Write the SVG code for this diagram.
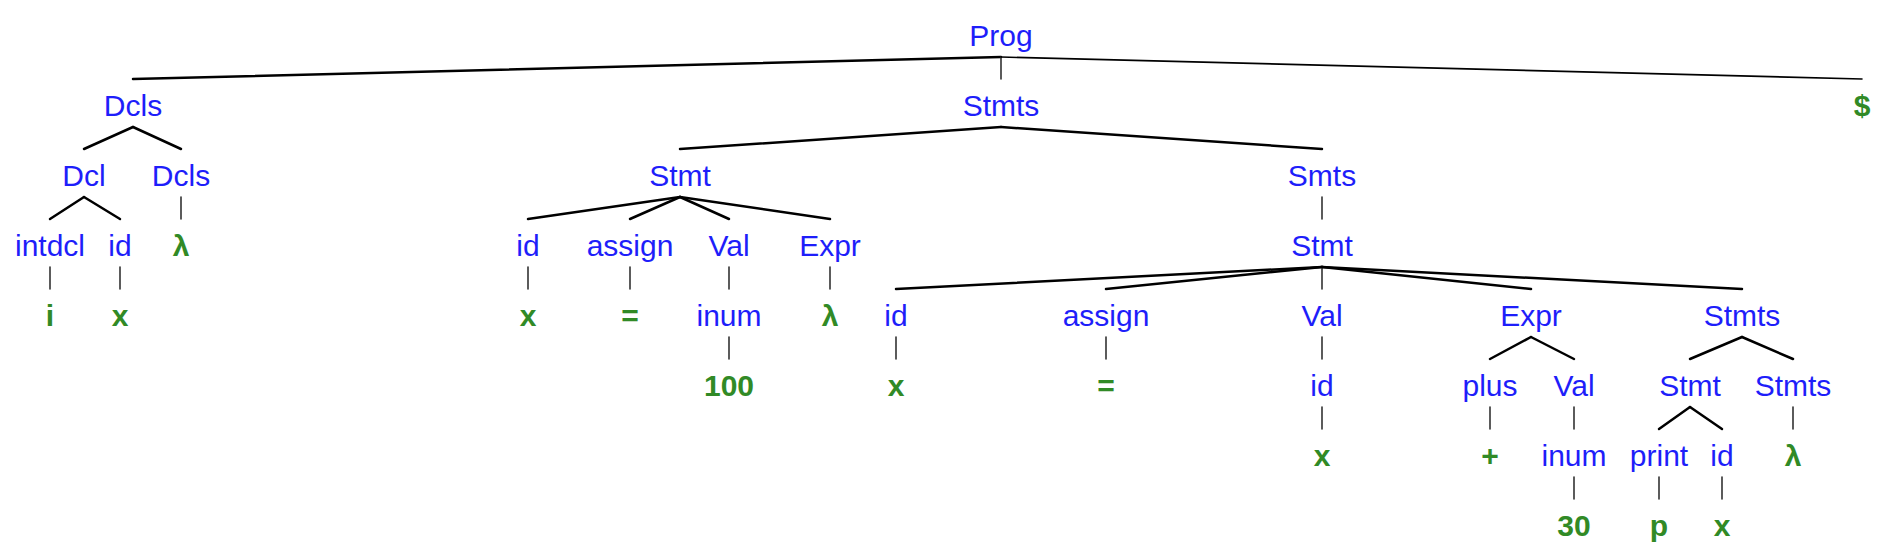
<svg xmlns="http://www.w3.org/2000/svg" width="1900" height="554" viewBox="0 0 1900 554">
<style>
text{font-family:"Liberation Sans",Arial,sans-serif;font-size:30px;text-anchor:middle}
.n{fill:#1e1efa}
.t{fill:#318a26;font-weight:bold}
.e line{stroke:#000;stroke-width:2.5;stroke-linecap:round}
.e line.v{stroke:#333;stroke-width:1.6}
</style>
<rect width="1900" height="554" fill="#fff"/>
<g class="e" id="connectors">
<line x1="1001" y1="57" x2="133" y2="79"/>
<line class="v" x1="1001" y1="57" x2="1001" y2="79"/>
<line x1="1001" y1="57" x2="1862" y2="79" style="stroke-width:1.6"/>
<line x1="133" y1="127" x2="84" y2="149"/>
<line x1="133" y1="127" x2="181" y2="149"/>
<line x1="1001" y1="127" x2="680" y2="149"/>
<line x1="1001" y1="127" x2="1322" y2="149"/>
<line x1="84" y1="197" x2="50" y2="219"/>
<line x1="84" y1="197" x2="120" y2="219"/>
<line class="v" x1="181" y1="197" x2="181" y2="219"/>
<line x1="680" y1="197" x2="528" y2="219"/>
<line x1="680" y1="197" x2="630" y2="219"/>
<line x1="680" y1="197" x2="729" y2="219"/>
<line x1="680" y1="197" x2="830" y2="219"/>
<line class="v" x1="1322" y1="197" x2="1322" y2="219"/>
<line class="v" x1="50" y1="267" x2="50" y2="289"/>
<line class="v" x1="120" y1="267" x2="120" y2="289"/>
<line class="v" x1="528" y1="267" x2="528" y2="289"/>
<line class="v" x1="630" y1="267" x2="630" y2="289"/>
<line class="v" x1="729" y1="267" x2="729" y2="289"/>
<line class="v" x1="830" y1="267" x2="830" y2="289"/>
<line x1="1322" y1="267" x2="896" y2="289"/>
<line x1="1322" y1="267" x2="1106" y2="289"/>
<line class="v" x1="1322" y1="267" x2="1322" y2="289"/>
<line x1="1322" y1="267" x2="1531" y2="289"/>
<line x1="1322" y1="267" x2="1742" y2="289"/>
<line class="v" x1="729" y1="337" x2="729" y2="359"/>
<line class="v" x1="896" y1="337" x2="896" y2="359"/>
<line class="v" x1="1106" y1="337" x2="1106" y2="359"/>
<line class="v" x1="1322" y1="337" x2="1322" y2="359"/>
<line x1="1531" y1="337" x2="1490" y2="359"/>
<line x1="1531" y1="337" x2="1574" y2="359"/>
<line x1="1742" y1="337" x2="1690" y2="359"/>
<line x1="1742" y1="337" x2="1793" y2="359"/>
<line class="v" x1="1322" y1="407" x2="1322" y2="429"/>
<line class="v" x1="1490" y1="407" x2="1490" y2="429"/>
<line class="v" x1="1574" y1="407" x2="1574" y2="429"/>
<line x1="1690" y1="407" x2="1659" y2="429"/>
<line x1="1690" y1="407" x2="1722" y2="429"/>
<line class="v" x1="1793" y1="407" x2="1793" y2="429"/>
<line class="v" x1="1574" y1="477" x2="1574" y2="499"/>
<line class="v" x1="1659" y1="477" x2="1659" y2="499"/>
<line class="v" x1="1722" y1="477" x2="1722" y2="499"/>
</g>
<g id="n-prog"><text class="n" x="1001" y="46">Prog</text></g>
<g id="n-dcls1"><text class="n" x="133" y="116">Dcls</text></g>
<g id="n-stmts1"><text class="n" x="1001" y="116">Stmts</text></g>
<g id="n-dollar"><text class="t" x="1862" y="116">$</text></g>
<g id="n-dcl"><text class="n" x="84" y="186">Dcl</text></g>
<g id="n-dcls2"><text class="n" x="181" y="186">Dcls</text></g>
<g id="n-stmt1"><text class="n" x="680" y="186">Stmt</text></g>
<g id="n-smts"><text class="n" x="1322" y="186">Smts</text></g>
<g id="n-intdcl"><text class="n" x="50" y="256">intdcl</text></g>
<g id="n-id1"><text class="n" x="120" y="256">id</text></g>
<g id="n-lambda1"><text class="t" x="181" y="256">λ</text></g>
<g id="n-id2"><text class="n" x="528" y="256">id</text></g>
<g id="n-assign1"><text class="n" x="630" y="256">assign</text></g>
<g id="n-val1"><text class="n" x="729" y="256">Val</text></g>
<g id="n-expr1"><text class="n" x="830" y="256">Expr</text></g>
<g id="n-stmt2"><text class="n" x="1322" y="256">Stmt</text></g>
<g id="n-i"><text class="t" x="50" y="326">i</text></g>
<g id="n-x1"><text class="t" x="120" y="326">x</text></g>
<g id="n-x2"><text class="t" x="528" y="326">x</text></g>
<g id="n-eq1"><text class="t" x="630" y="326">=</text></g>
<g id="n-inum1"><text class="n" x="729" y="326">inum</text></g>
<g id="n-lambda2"><text class="t" x="830" y="326">λ</text></g>
<g id="n-id3"><text class="n" x="896" y="326">id</text></g>
<g id="n-assign2"><text class="n" x="1106" y="326">assign</text></g>
<g id="n-val2"><text class="n" x="1322" y="326">Val</text></g>
<g id="n-expr2"><text class="n" x="1531" y="326">Expr</text></g>
<g id="n-stmts2"><text class="n" x="1742" y="326">Stmts</text></g>
<g id="n-100"><text class="t" x="729" y="396">100</text></g>
<g id="n-x3"><text class="t" x="896" y="396">x</text></g>
<g id="n-eq2"><text class="t" x="1106" y="396">=</text></g>
<g id="n-id4"><text class="n" x="1322" y="396">id</text></g>
<g id="n-plus"><text class="n" x="1490" y="396">plus</text></g>
<g id="n-val3"><text class="n" x="1574" y="396">Val</text></g>
<g id="n-stmt3"><text class="n" x="1690" y="396">Stmt</text></g>
<g id="n-stmts3"><text class="n" x="1793" y="396">Stmts</text></g>
<g id="n-x4"><text class="t" x="1322" y="466">x</text></g>
<g id="n-plussign"><text class="t" x="1490" y="466">+</text></g>
<g id="n-inum2"><text class="n" x="1574" y="466">inum</text></g>
<g id="n-print"><text class="n" x="1659" y="466">print</text></g>
<g id="n-id5"><text class="n" x="1722" y="466">id</text></g>
<g id="n-lambda3"><text class="t" x="1793" y="466">λ</text></g>
<g id="n-30"><text class="t" x="1574" y="536">30</text></g>
<g id="n-p"><text class="t" x="1659" y="536">p</text></g>
<g id="n-x5"><text class="t" x="1722" y="536">x</text></g>
</svg>
